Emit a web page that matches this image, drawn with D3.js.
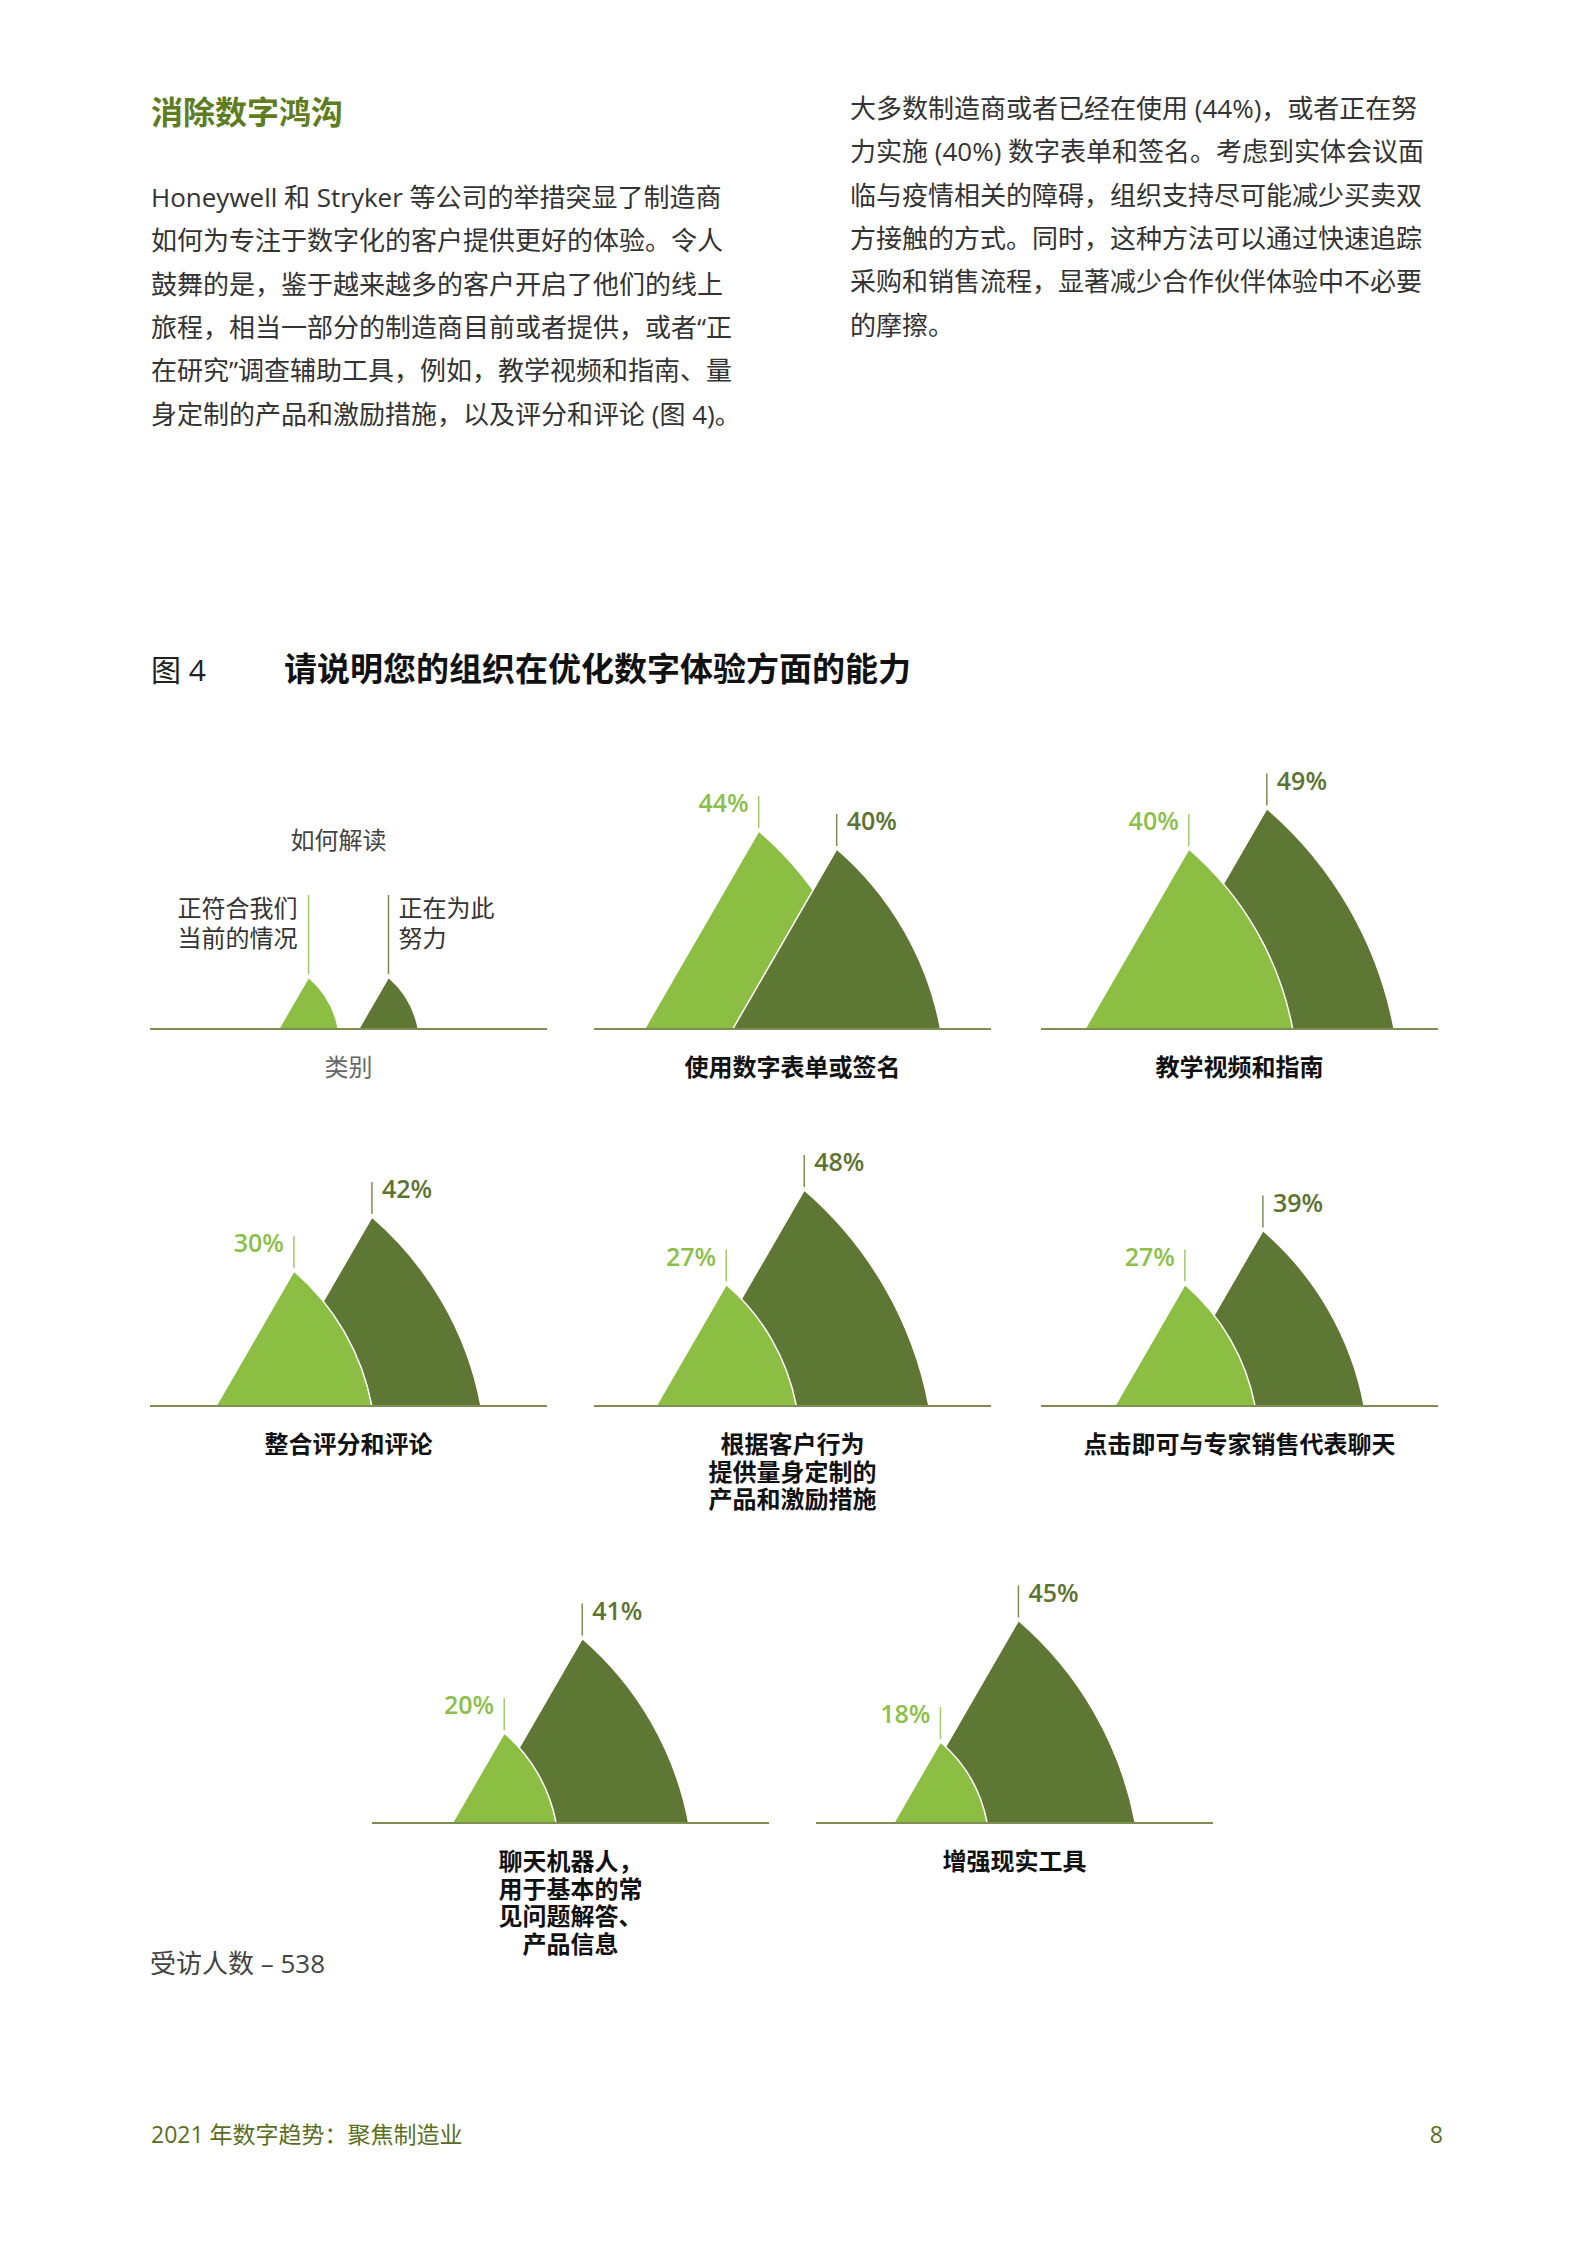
<!DOCTYPE html>
<html>
<head>
<meta charset="utf-8">
<script src="https://cdn.jsdelivr.net/npm/d3@7"></script>
<style>
  body { margin: 0; background: #fff; }
  text { font-family: "Open Sans", "Noto Sans CJK SC", sans-serif; }
  .cjk { font-family: "Noto Sans CJK SC", sans-serif; }
</style>
</head>
<body>
<svg id="page"></svg>
<script>
// chart data
let categories = [
  ['使用数字表单或签名'],
  ['教学视频和指南'],
  ['整合评分和评论'],
  ['根据客户行为', '提供量身定制的', '产品和激励措施'],
  ['点击即可与专家销售代表聊天'],
  ['聊天机器人，', '用于基本的常', '见问题解答、', '产品信息'],
  ['增强现实工具']
]
let currentValues = [44, 40, 30, 27, 27, 20, 18]   // 正符合我们当前的情况
let workingValues = [40, 49, 42, 48, 39, 41, 45]   // 正在为此努力
let seriesNames = [['正符合我们', '当前的情况'], ['正在为此', '努力']]
let legendValues = [11.5, 11.5]
let respondents = 538

let leftParagraph = [
  'Honeywell 和 Stryker 等公司的举措突显了制造商',
  '如何为专注于数字化的客户提供更好的体验。令人',
  '鼓舞的是，鉴于越来越多的客户开启了他们的线上',
  '旅程，相当一部分的制造商目前或者提供，或者“正',
  '在研究”调查辅助工具，例如，教学视频和指南、量',
  '身定制的产品和激励措施，以及评分和评论 (图 4)。'
]
let rightParagraph = [
  '大多数制造商或者已经在使用 (44%)，或者正在努',
  '力实施 (40%) 数字表单和签名。考虑到实体会议面',
  '临与疫情相关的障碍，组织支持尽可能减少买卖双',
  '方接触的方式。同时，这种方法可以通过快速追踪',
  '采购和销售流程，显著减少合作伙伴体验中不必要',
  '的摩擦。'
]

let W = 1586, H = 2244
let lightFill = '#8bbe42', darkFill = '#5f7734'
let lightText = '#8cc04b', darkText = '#5d7431'
let lightLead = '#a3ca6c', darkLead = '#7b8d52'

let svg = d3.select('#page').attr('width', W).attr('height', H)

// ---- text blocks ----
svg.append('text').attr('x', 151).attr('y', 124)
  .attr('class', 'cjk').attr('font-size', 32).attr('font-weight', 700)
  .attr('fill', '#5e7d22').text('消除数字鸿沟')

let addLines = (lines, x, y0, step, size, fill) => {
  svg.append('g').selectAll('text')
    .data(lines).enter().append('text')
    .attr('x', x).attr('y', (d, i) => y0 + i * step)
    .attr('font-size', size).attr('fill', fill)
    .text(d => d)
}
addLines(leftParagraph, 151, 207, 43.3, 26, '#333')
addLines(rightParagraph, 850, 118, 43.3, 26, '#333')

svg.append('text').attr('x', 151).attr('y', 681)
  .attr('font-size', 30).attr('fill', '#222').text('图 4')
svg.append('text').attr('x', 284).attr('y', 681)
  .attr('class', 'cjk').attr('font-size', 33).attr('font-weight', 700)
  .attr('fill', '#111').text('请说明您的组织在优化数字体验方面的能力')

// ---- chart ----
let panelWidth = 397
let peakGap = 78
let hScale = d3.scaleLinear().domain([0, 50]).range([0, 225])

// panel slots: legend first, then categories
let slots = [
  [150, 1029], [594, 1029], [1041, 1029],
  [150, 1406], [594, 1406], [1041, 1406],
  [372, 1823], [816, 1823]
]

// straight left side, bowed right side (arc through peak and right foot)
let finPath = (px, base, h) => {
  let w = h / Math.sqrt(3)
  let x1 = px, y1 = base - h, x2 = px + w, y2 = base
  let L = 2 * w, s = 0.085 * L
  let R = (L * L / 4 + s * s) / (2 * s)
  let mx = (x1 + x2) / 2, my = (y1 + y2) / 2
  let nx = 0.866, ny = -0.5
  let cx = mx - nx * (R - s), cy = my - ny * (R - s)
  let a0 = Math.atan2(y1 - cy, x1 - cx), a1 = Math.atan2(y2 - cy, x2 - cx)
  let p = d3.path()
  p.moveTo(px - w, base)
  p.lineTo(x1, y1)
  p.arc(cx, cy, R, a0, a1, false)
  p.closePath()
  return p.toString()
}

let drawPanel = (slot, vals, gap) => {
  let [x0, base] = slot
  let cx = x0 + panelWidth / 2
  let hL = hScale(vals[0]), hD = hScale(vals[1])
  let wL = hL / Math.sqrt(3), wD = hD / Math.sqrt(3)
  let pL = cx - (gap + wD - wL) / 2
  let pD = pL + gap
  let fins = [
    {v: vals[0], h: hL, px: pL, fill: lightFill},
    {v: vals[1], h: hD, px: pD, fill: darkFill}
  ]
  // the smaller fin sits in front
  let order = fins.slice().sort((a, b) => b.v - a.v)
  let g = svg.append('g')
  g.selectAll('path').data(order).enter().append('path')
    .attr('d', d => finPath(d.px, base, d.h))
    .attr('fill', d => d.fill)
    .attr('stroke', '#fff').attr('stroke-width', 1.5)
    .attr('stroke-linejoin', 'round')
  g.append('line').attr('x1', x0).attr('x2', x0 + panelWidth)
    .attr('y1', base).attr('y2', base)
    .attr('stroke', '#7d8e52').attr('stroke-width', 2)
  return {g, pL, pD, hL, hD, base, cx}
}

// multi-line label as one text element
let multiText = (g, lines, x, y, step) => {
  let t = g.append('text').attr('x', x).attr('y', y)
  t.selectAll('tspan').data(lines).enter().append('tspan')
    .attr('x', x).attr('dy', (d, i) => i ? step : 0).text(d => d)
  return t
}

// legend panel
let lg = drawPanel(slots[0], legendValues, 80)
lg.g.append('line').attr('x1', lg.pL).attr('x2', lg.pL)
  .attr('y1', lg.base - lg.hL - 3).attr('y2', 895)
  .attr('stroke', lightLead).attr('stroke-width', 1.5)
lg.g.append('line').attr('x1', lg.pD).attr('x2', lg.pD)
  .attr('y1', lg.base - lg.hD - 3).attr('y2', 895)
  .attr('stroke', darkLead).attr('stroke-width', 1.5)
multiText(lg.g, seriesNames[0], lg.pL - 11, 917, 30)
  .attr('text-anchor', 'end').attr('font-size', 24).attr('fill', '#333')
multiText(lg.g, seriesNames[1], lg.pD + 10, 917, 30)
  .attr('font-size', 24).attr('fill', '#333')
lg.g.append('text').attr('x', lg.cx - 10).attr('y', 849)
  .attr('text-anchor', 'middle').attr('font-size', 24).attr('fill', '#444').text('如何解读')
lg.g.append('text').attr('x', lg.cx).attr('y', lg.base + 47)
  .attr('text-anchor', 'middle').attr('font-size', 24).attr('fill', '#666').text('类别')

// category panels
categories.forEach((cat, i) => {
  let p = drawPanel(slots[i + 1], [currentValues[i], workingValues[i]], peakGap)
  let yL = p.base - p.hL, yD = p.base - p.hD
  p.g.append('line').attr('x1', p.pL).attr('x2', p.pL)
    .attr('y1', yL - 3).attr('y2', yL - 35)
    .attr('stroke', lightLead).attr('stroke-width', 1.5)
  p.g.append('line').attr('x1', p.pD).attr('x2', p.pD)
    .attr('y1', yD - 3).attr('y2', yD - 35)
    .attr('stroke', darkLead).attr('stroke-width', 1.5)
  p.g.append('text').attr('x', p.pL - 10).attr('y', yL - 19)
    .attr('text-anchor', 'end').attr('font-size', 25).attr('font-weight', 600)
    .attr('fill', lightText).text(currentValues[i] + '%')
  p.g.append('text').attr('x', p.pD + 10).attr('y', yD - 19)
    .attr('font-size', 25).attr('font-weight', 600)
    .attr('fill', darkText).text(workingValues[i] + '%')
  multiText(p.g, cat, p.cx, p.base + 47, 27.5)
    .attr('class', 'cjk')
    .attr('text-anchor', 'middle').attr('font-size', 24).attr('font-weight', 700)
    .attr('fill', '#111')
})

// ---- notes and footer ----
svg.append('text').attr('x', 150).attr('y', 1973)
  .attr('font-size', 26).attr('fill', '#444').text('受访人数 – ' + respondents)
svg.append('text').attr('x', 151).attr('y', 2143)
  .attr('font-size', 23).attr('fill', '#5a6e22').text('2021 年数字趋势：聚焦制造业')
svg.append('text').attr('x', 1443).attr('y', 2143).attr('text-anchor', 'end')
  .attr('font-size', 23).attr('fill', '#5a6e22').text('8')
</script>
</body>
</html>
